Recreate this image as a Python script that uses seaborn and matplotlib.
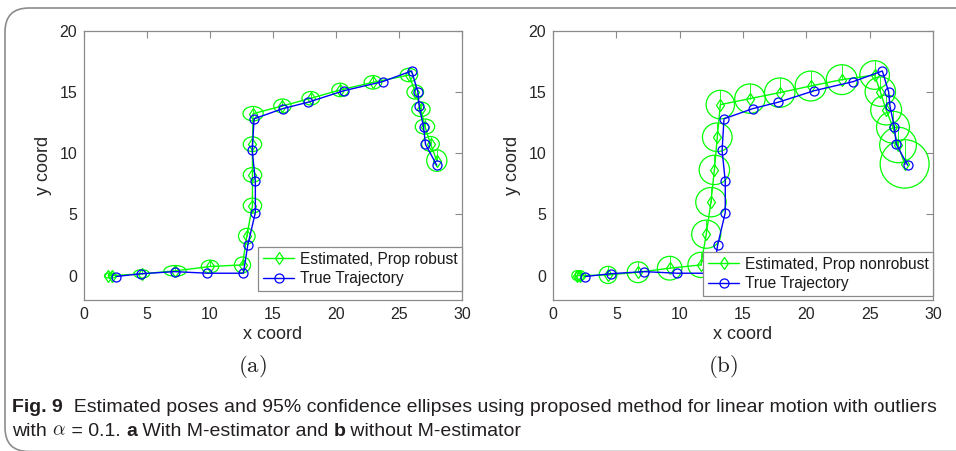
import matplotlib
matplotlib.use("Agg")
import matplotlib.pyplot as plt
import seaborn as sns
from matplotlib.patches import Ellipse, FancyBboxPatch

# ---------------- data ----------------
true_x = [2.55, 4.55, 7.2, 9.8, 12.65, 13.0, 13.6, 13.6, 13.35, 13.5, 15.8, 17.8,
          20.6, 23.7, 26.0, 26.5, 26.6, 26.95, 27.1, 28.0]
true_y = [-0.08, 0.15, 0.32, 0.19, 0.19, 2.5, 5.15, 7.71, 10.24, 12.82, 13.66, 14.18,
          15.11, 15.86, 16.73, 15.01, 13.87, 12.13, 10.74, 9.02]

rob_x = [1.93, 2.25, 4.58, 7.23, 10.0, 12.58, 12.92, 13.37, 13.37, 13.37, 13.42,
         15.75, 18.0, 20.33, 22.93, 25.79, 26.29, 26.74, 27.06, 27.5, 28.0]
rob_y = [0.0, 0.0, 0.14, 0.38, 0.74, 0.87, 3.22, 5.72, 8.23, 10.74, 13.24,
         13.87, 14.5, 15.18, 15.8, 16.4, 15.01, 13.6, 12.18, 10.76, 9.4]
rob_a = [0.3, 0.3, 0.62, 0.88, 0.69, 0.64, 0.66, 0.73, 0.73, 0.73, 0.8,
         0.69, 0.7, 0.66, 0.7, 0.69, 0.66, 0.73, 0.77, 0.7, 0.8]
rob_b = [0.2, 0.2, 0.34, 0.44, 0.52, 0.65, 0.64, 0.61, 0.6, 0.6, 0.59,
         0.57, 0.55, 0.55, 0.55, 0.55, 0.58, 0.6, 0.62, 0.61, 0.88]

non_x = [1.89, 2.16, 4.34, 6.71, 9.21, 11.68, 12.1, 12.47, 12.74, 12.97, 13.21,
         15.55, 17.9, 20.34, 22.8, 25.39, 25.84, 26.3, 26.84, 27.24, 27.76]
non_y = [0.0, 0.0, 0.05, 0.27, 0.6, 0.87, 3.38, 6.0, 8.64, 11.31, 13.98,
         14.47, 14.96, 15.5, 16.02, 16.4, 15.04, 13.54, 12.13, 10.68, 9.13]
non_a = [0.4, 0.4, 0.7, 0.85, 0.97, 1.03, 1.15, 1.2, 1.2, 1.17, 1.12,
         1.2, 1.2, 1.22, 1.22, 1.17, 1.2, 1.22, 1.3, 1.45, 1.93]
non_b = [0.4, 0.4, 0.7, 0.85, 0.97, 1.03, 1.15, 1.2, 1.2, 1.17, 1.17,
         1.2, 1.2, 1.22, 1.22, 1.17, 1.2, 1.22, 1.3, 1.45, 1.98]

x_ticks = [0, 5, 10, 15, 20, 25, 30]
y_ticks = [0, 5, 10, 15, 20]
panel_tags = ["(a)", "(b)"]
legend_est = ["Estimated, Prop robust", "Estimated, Prop nonrobust"]
legend_true = "True Trajectory"

GREEN = "#00ff00"
BLUE = "#0000ff"
SPINE = "#8a8a8a"

# ---------------- style ----------------
sns.set_style("white")
plt.rcParams["font.family"] = ["Liberation Sans", "DejaVu Sans"]
plt.rcParams["mathtext.fontset"] = "cm"

W, H = 956, 451
fig = plt.figure(figsize=(W / 100, H / 100), dpi=100)

def px_axes(l, r, t, b):
    return fig.add_axes([l / W, 1 - b / H, (r - l) / W, (b - t) / H])

ax1 = px_axes(84, 462, 31, 300)
ax2 = px_axes(553, 933, 31, 300)

def panel(ax, ex, ey, ea, eb, est_label, anchor_y):
    for x, y, a, b in zip(ex, ey, ea, eb):
        ax.add_patch(Ellipse((x, y), 2 * a, 2 * b, fill=False, ec=GREEN, lw=0.9, zorder=2))
        ax.plot([x, x], [y, y + b], color=GREEN, lw=0.6, zorder=2)
    sns.lineplot(x=ex, y=ey, sort=False, estimator=None, ax=ax, color=GREEN,
                 marker="d", markersize=6, markerfacecolor="none",
                 markeredgecolor=GREEN, markeredgewidth=0.9, lw=1.0,
                 label=est_label, zorder=3)
    sns.lineplot(x=true_x, y=true_y, sort=False, estimator=None, ax=ax, color=BLUE,
                 marker="o", markersize=6.5, markerfacecolor="none",
                 markeredgecolor=BLUE, markeredgewidth=0.9, lw=1.0,
                 label=legend_true, zorder=4)
    ax.set_xlim(0, 30)
    ax.set_ylim(-2, 20)
    ax.set_xticks(x_ticks)
    ax.set_yticks(y_ticks)
    ax.tick_params(direction="in", length=5, width=0.8, color=SPINE,
                   top=True, right=True, labelsize=11.5, labelcolor="#262626", pad=5)
    for s in ax.spines.values():
        s.set_color(SPINE)
        s.set_linewidth(0.9)
        s.set_visible(True)
    ax.set_xlabel("x coord", fontsize=13, color="#262626", labelpad=3)
    ax.set_ylabel("y coord", fontsize=13, color="#262626", labelpad=5)
    leg = ax.legend(loc="lower right", bbox_to_anchor=(1.0, anchor_y), borderaxespad=0,
                    fontsize=11.2, frameon=True, fancybox=False, framealpha=1,
                    edgecolor=SPINE, handlelength=2.0, handletextpad=0.35,
                    labelspacing=0.3, borderpad=0.3)
    leg.get_frame().set_linewidth(0.9)
    for t in leg.get_texts():
        t.set_color("#1a1a1a")

panel(ax1, rob_x, rob_y, rob_a, rob_b, legend_est[0], 9 / 269)
panel(ax2, non_x, non_y, non_a, non_b, legend_est[1], 4 / 269)

# panel tags
fig.text(252 / W, 1 - 367 / H, r"$\mathrm{" + panel_tags[0] + "}$", fontsize=16.5,
         ha="center", va="center", color="#222222")
fig.text(723 / W, 1 - 367 / H, r"$\mathrm{" + panel_tags[1] + "}$", fontsize=16.5,
         ha="center", va="center", color="#222222")

# outer rounded frame
frame = FancyBboxPatch((5 / W, -0.5 / H), 1.2, (H - 8 + 0.5) / H,
                       boxstyle="round,pad=0,rounding_size=0.025",
                       transform=fig.transFigure, fill=False, ec="#8c8c8c", lw=1.2,
                       mutation_aspect=W / H)
fig.patches.append(frame)

# caption
cap_fam = ["Liberation Sans Narrow", "Liberation Sans", "DejaVu Sans"]
line1 = [("Fig. 9", "bold", False), ("  Estimated poses and 95% confidence ellipses using proposed method for linear motion with outliers", "normal", False)]
line2 = [("with ", "normal", False), (r"$\alpha$", "normal", True), (" = 0.1. ", "normal", False),
         ("a", "bold", False), (" With M-estimator and ", "normal", False),
         ("b", "bold", False), (" without M-estimator", "normal", False)]

renderer = fig.canvas.get_renderer()

def place(runs, x0, yc, size):
    x = x0
    objs = []
    for txt, wt, math in runs:
        kw = dict(fontsize=size, va="center", ha="left", color="#231f20")
        if math:
            t = fig.text(x / W, 1 - yc / H, txt, **kw)
        else:
            t = fig.text(x / W, 1 - yc / H, txt, fontweight=wt, family=cap_fam, **kw)
        bb = t.get_window_extent(renderer)
        x += bb.width
        objs.append(t)
    return x - x0, objs

size = 11.0
target = 940 - 12
for _ in range(4):
    w, objs = place(line1, 12, 407, size)
    for o in objs:
        o.remove()
    size = size * target / w
place(line1, 12, 407, size)
place(line2, 12, 431, size)

fig.savefig("out.png", dpi=100)
